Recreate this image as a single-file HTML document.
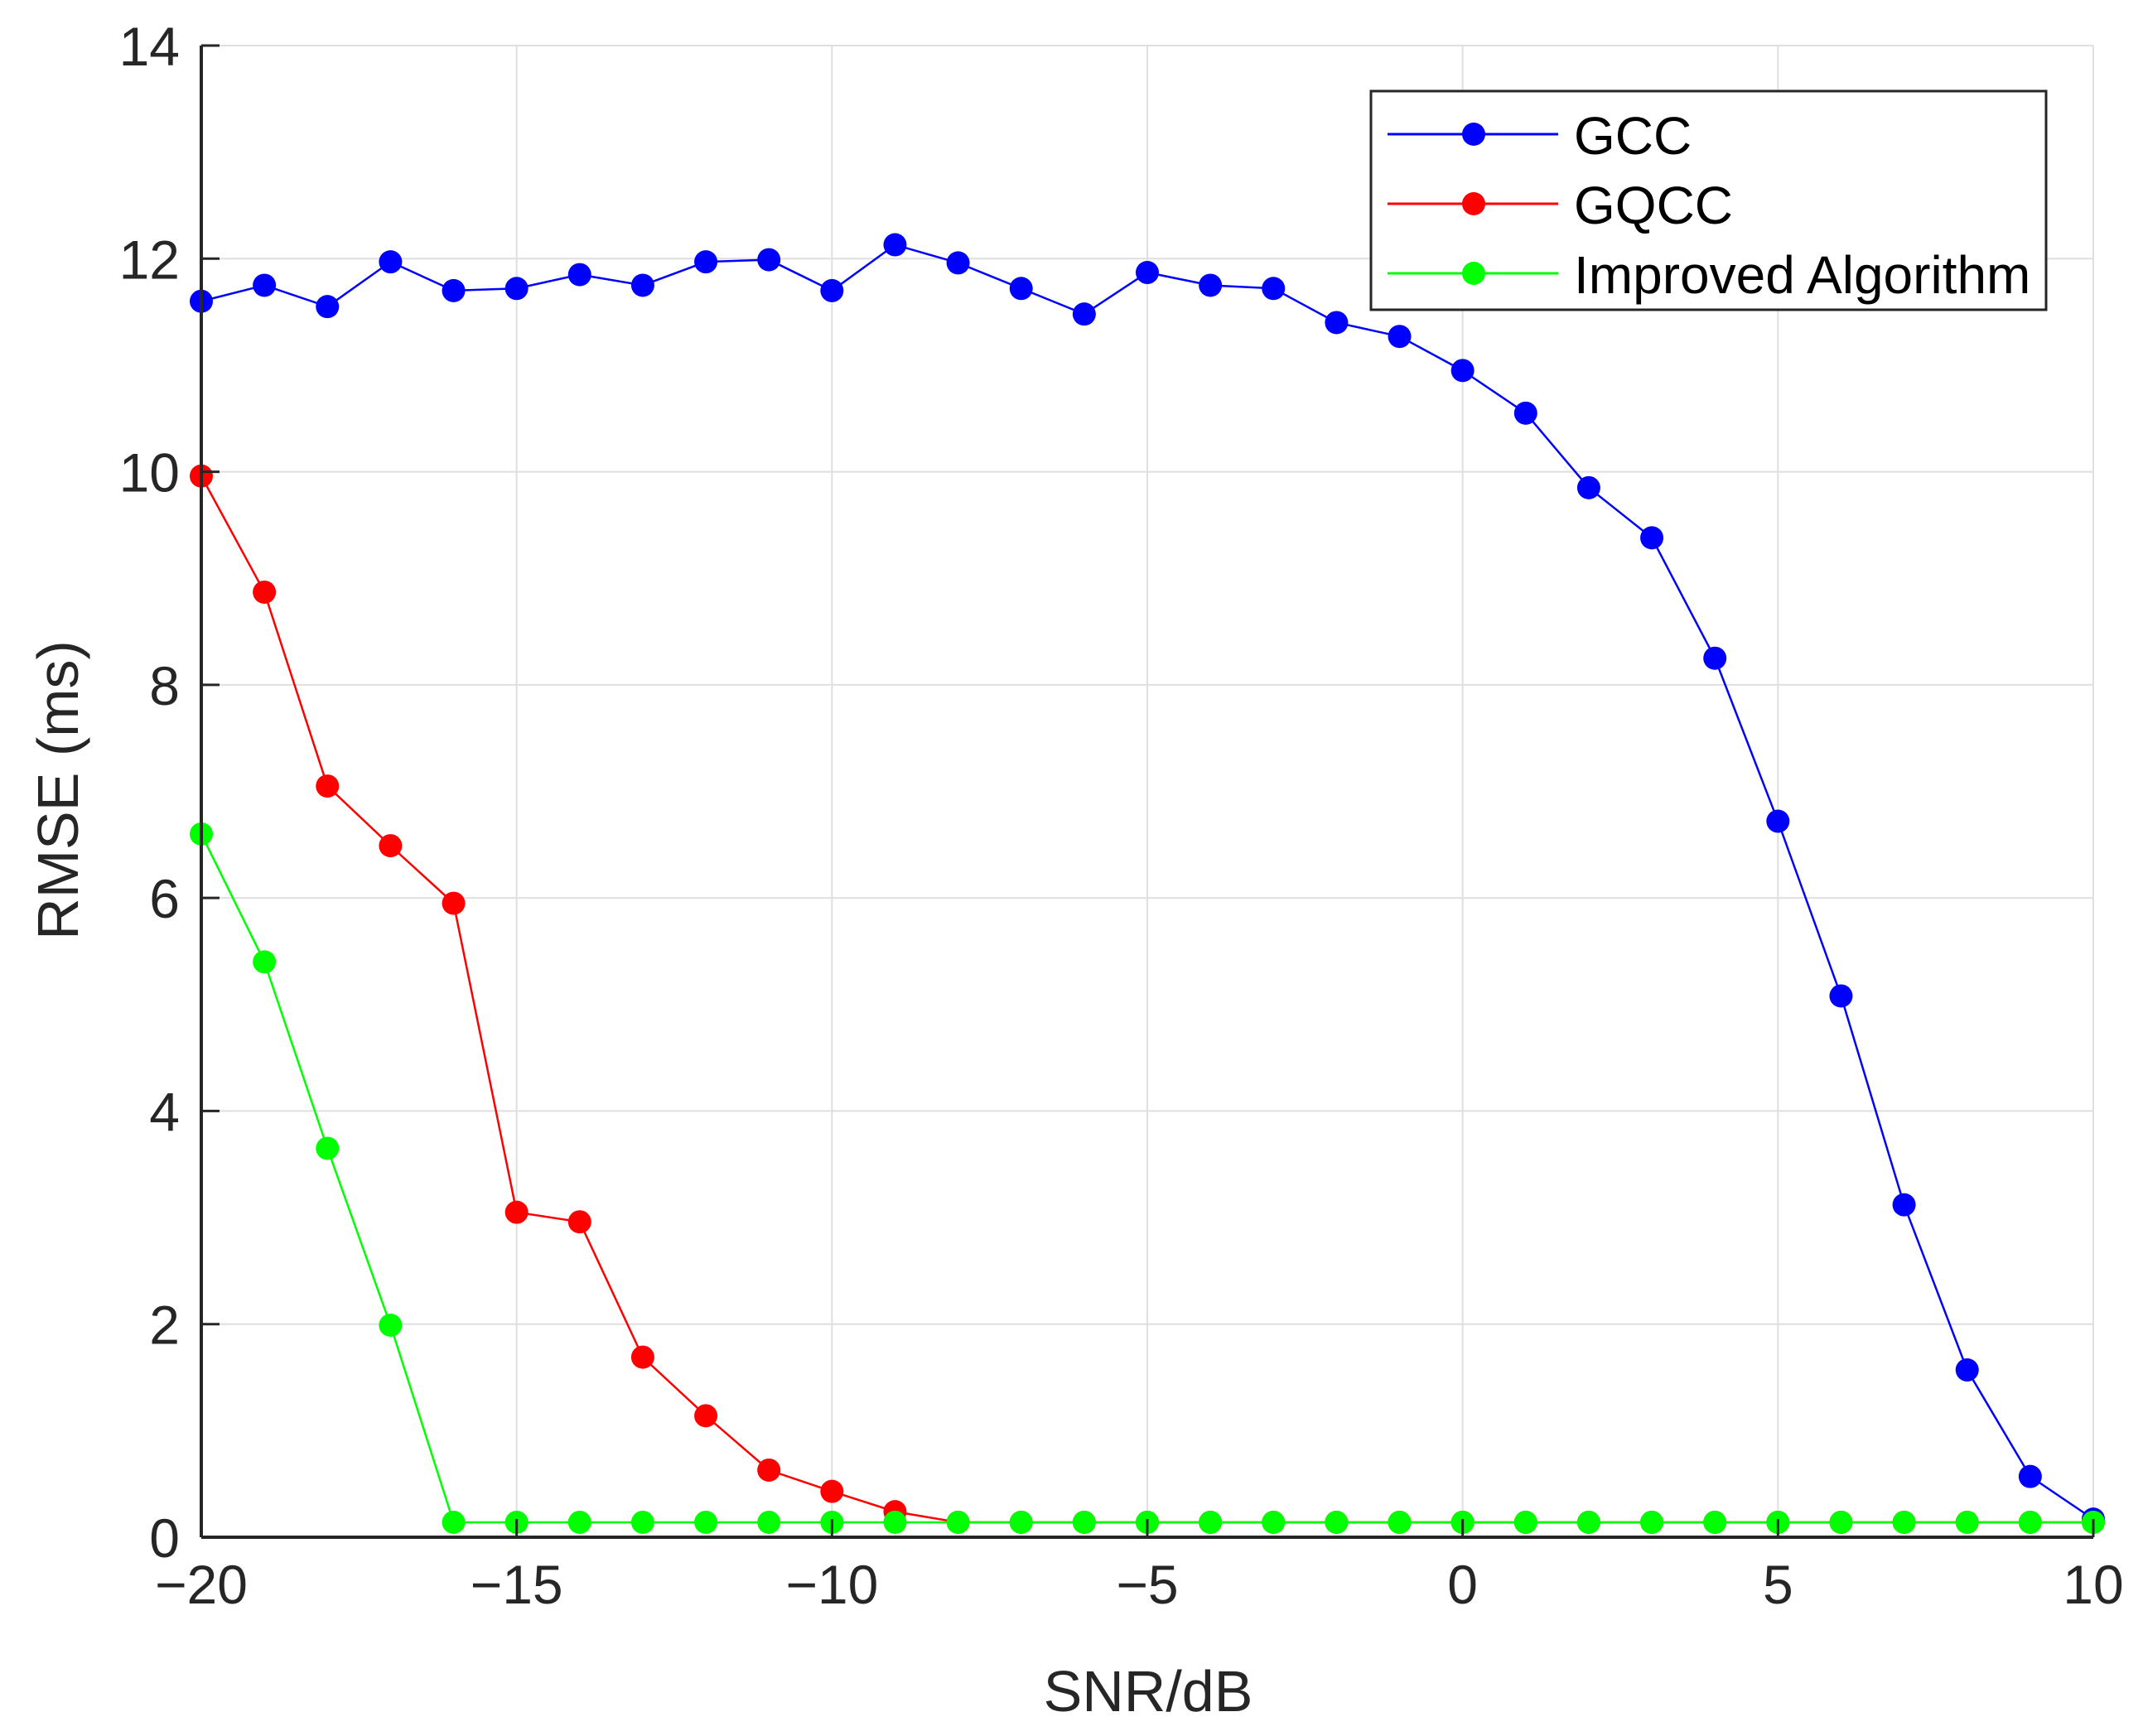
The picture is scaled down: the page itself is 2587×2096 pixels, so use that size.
<!DOCTYPE html>
<html><head><meta charset="utf-8"><style>
body{margin:0;background:#fff}
svg{display:block;font-family:"Liberation Sans",sans-serif}
</style></head><body>
<svg id="chart" width="2587" height="2096" xmlns="http://www.w3.org/2000/svg">
<rect width="2587" height="2096" fill="#fff"/>
<g id="grid"></g>
<g id="series"></g>
<g id="axes"></g>
<text x="1386" y="2066" font-size="70" text-anchor="middle" fill="#262626">SNR/dB</text>
<text transform="translate(94,954) rotate(-90)" font-size="70" text-anchor="middle" fill="#262626">RMSE (ms)</text>
<g>
<rect x="1655" y="110" width="815" height="264" fill="#fff" stroke="#262626" stroke-width="3"/>
<g><line x1="1675" y1="162" x2="1881" y2="162" stroke="#0000ff" stroke-width="3"/><circle cx="1779" cy="162" r="14" fill="#0000ff"/><text x="1900" y="186" font-size="64" fill="#000">GCC</text></g>
<g><line x1="1675" y1="246" x2="1881" y2="246" stroke="#ff0000" stroke-width="3"/><circle cx="1779" cy="246" r="14" fill="#ff0000"/><text x="1900" y="270" font-size="64" fill="#000">GQCC</text></g>
<g><line x1="1675" y1="330" x2="1881" y2="330" stroke="#00ff00" stroke-width="3"/><circle cx="1779" cy="330" r="14" fill="#00ff00"/><text x="1900" y="354" font-size="64" fill="#000">Improved Algorithm</text></g>
</g>
</svg>
<script>
const snr = [-20,-19,-18,-17,-16,-15,-14,-13,-12,-11,-10,-9,-8,-7,-6,-5,-4,-3,-2,-1,0,1,2,3,4,5,6,7,8,9,10];
const gcc = [11.6,11.75,11.55,11.97,11.7,11.72,11.85,11.75,11.97,11.99,11.7,12.13,11.96,11.72,11.48,11.87,11.75,11.72,11.4,11.27,10.95,10.55,9.85,9.38,8.25,6.72,5.08,3.12,1.57,0.57,0.17];
const gqcc = [9.96,8.87,7.05,6.49,5.95,3.05,2.96,1.69,1.14,0.63,0.43,0.24,0.14,0.14,0.14,0.14,0.14,0.14,0.14,0.14,0.14,0.14,0.14,0.14,0.14,0.14,0.14,0.14,0.14,0.14,0.14];
const improved = [6.6,5.4,3.65,1.99,0.14,0.14,0.14,0.14,0.14,0.14,0.14,0.14,0.14,0.14,0.14,0.14,0.14,0.14,0.14,0.14,0.14,0.14,0.14,0.14,0.14,0.14,0.14,0.14,0.14,0.14,0.14];
const xTicks = [-20,-15,-10,-5,0,5,10];
const xTickLabels = ["\u221220","\u221215","\u221210","\u22125","0","5","10"];
const yTicks = [0,2,4,6,8,10,12,14];

const L=243,R=2527,T=55,B=1856;
const xMin=-20,xMax=10,yMin=0,yMax=14;
const sx=v=>L+(v-xMin)/(xMax-xMin)*(R-L);
const sy=v=>B-(v-yMin)/(yMax-yMin)*(B-T);
const NS="http://www.w3.org/2000/svg";
function mk(tag,attrs,parent){const e=document.createElementNS(NS,tag);for(const k in attrs)e.setAttribute(k,attrs[k]);parent.appendChild(e);return e;}
const grid=document.getElementById('grid'),axes=document.getElementById('axes'),ser=document.getElementById('series');
mk('rect',{x:L,y:T,width:R-L,height:B-T,fill:'#fff'},grid);
xTicks.forEach((v,i)=>{
  const g=mk('line',{x1:sx(v),x2:sx(v),y1:T,y2:B,stroke:'#dfdfdf','stroke-width':2},grid);
  
  
  const t=mk('text',{x:sx(v),y:B+80,'font-size':66,'text-anchor':'middle',fill:'#262626'},axes);
  t.textContent=xTickLabels[i];
  
  
  mk('line',{x1:sx(v),x2:sx(v),y1:B,y2:B-22,stroke:'#262626','stroke-width':3},axes);
});
yTicks.forEach(v=>{
  const g=mk('line',{x1:L,x2:R,y1:sy(v),y2:sy(v),stroke:'#dfdfdf','stroke-width':2},grid);
  
  
  const t=mk('text',{x:L-26,y:sy(v)+24,'font-size':66,'text-anchor':'end',fill:'#262626'},axes);
  t.textContent=String(v);
  
  
  mk('line',{x1:L,x2:L+22,y1:sy(v),y2:sy(v),stroke:'#262626','stroke-width':3},axes);
});
mk('line',{x1:L,x2:R,y1:B,y2:B,stroke:'#262626','stroke-width':4},axes);
mk('line',{x1:L,x2:L,y1:T,y2:B,stroke:'#262626','stroke-width':4},axes);
function drawSeries(vals,color,name){
  const g=mk('g',{},ser);
  
  
  const pts=vals.map((v,i)=>sx(snr[i])+','+sy(v)).join(' ');
  mk('polyline',{points:pts,fill:'none',stroke:color,'stroke-width':2.5},g);
  vals.forEach((v,i)=>{
    const c=mk('circle',{cx:sx(snr[i]),cy:sy(v),r:14,fill:color},g);
    
    
  });
}
drawSeries(gcc,'#0000ff','gcc-series');
drawSeries(gqcc,'#ff0000','gqcc-series');
drawSeries(improved,'#00ff00','improved-series');
</script>
</body></html>
